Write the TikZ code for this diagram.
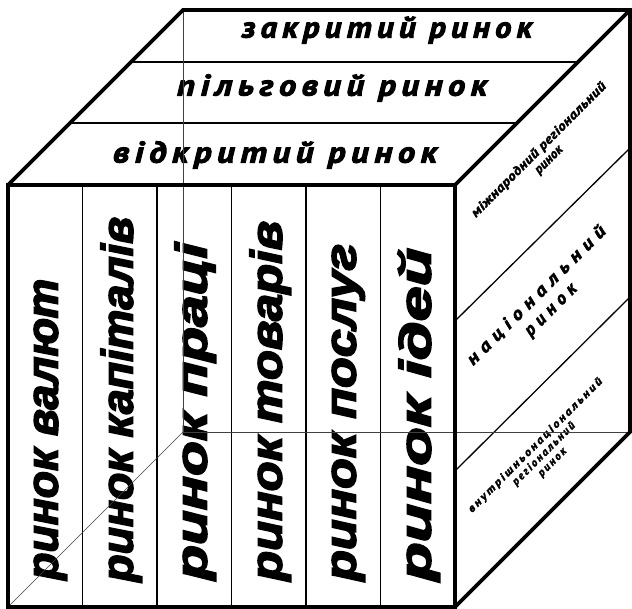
\documentclass[tikz,border=0pt]{standalone}
\usepackage{fontspec}
\usepackage{graphicx}
\setmainfont{Liberation Sans}
\newfontfamily\frontfont{Liberation Sans}[BoldItalicFeatures={FakeBold=3.5}]
\newfontfamily\curfont{PT Sans}[BoldItalicFeatures={FakeBold=3}]
\newfontfamily\sidefont{PT Sans}[BoldItalicFeatures={FakeBold=2.5}]
\usetikzlibrary{calc}
\begin{document}
\begin{tikzpicture}[x=1pt,y=-1pt,
  outline/.style={line width=3.6pt, line join=miter, line cap=round},
  divider/.style={line width=1.3pt},
  hidden/.style={line width=0.6pt, black!75},
  fronttext/.style={rotate=90, anchor=mid west, inner sep=0pt,
    font=\frontfont\bfseries\itshape\fontsize{44}{44}\selectfont},
  toptext/.style={anchor=mid, inner sep=0pt,
    font=\curfont\bfseries\itshape\fontsize{30}{30}\selectfont},
  sidetext/.style={rotate=45, anchor=center, inner sep=0pt, align=center}]
\fill[white] (0,0) rectangle (632,609);
\useasboundingbox (0,0) rectangle (632,609);
% cube corners
\coordinate (ftl) at (8,185);
\coordinate (ftr) at (455,185);
\coordinate (fbl) at (8,607);
\coordinate (fbr) at (455,607);
\coordinate (btl) at (183,10);
\coordinate (btr) at (630,10);
\coordinate (bbr) at (630,432);
\coordinate (bbl) at (183,432);
% front columns
\foreach \i in {1,...,5}{
  \draw[divider] ($(ftl)!\i/6!(ftr)$) -- ($(fbl)!\i/6!(fbr)$);
}
% top stripes
\coordinate (tl1) at ($(ftl)!0.354!(btl)$);
\coordinate (tr1) at ($(ftr)!0.354!(btr)$);
\coordinate (tl2) at ($(ftl)!0.703!(btl)$);
\coordinate (tr2) at ($(ftr)!0.703!(btr)$);
\draw[divider] (tl1) -- (tr1);
\draw[divider] (tl2) -- (tr2);
% side stripes
\coordinate (r1a) at (455,321);
\coordinate (r1b) at (630,148);
\coordinate (r2a) at (455,471);
\coordinate (r2b) at (630,297);
\draw[divider] (r1a) -- (r1b);
\draw[divider] (r2a) -- (r2b);
% front texts
\node[fronttext] (c1) at (55,580) {\resizebox{301pt}{\height}{ринок валют}};
\node[fronttext] (c2) at (130,582) {\resizebox{365pt}{\height}{ринок капіталів}};
\node[fronttext] (c3) at (204,580) {\resizebox{337pt}{\height}{ринок праці}};
\node[fronttext] (c4) at (279,581) {\resizebox{360pt}{\height}{ринок товарів}};
\node[fronttext] (c5) at (353,581) {\resizebox{337pt}{\height}{ринок послуг}};
\node[fronttext] (c6) at (428,581) {\resizebox{333pt}{\height}{ринок ідей}};
% top texts
\node[toptext] (s1) at (387,35) {\resizebox{290pt}{\height}{\addfontfeature{LetterSpace=16}закритий ринок}};
\node[toptext] (s2) at (332,93) {\resizebox{310pt}{\height}{\addfontfeature{LetterSpace=16}пільговий ринок}};
\node[toptext] (s3) at (275,160) {\resizebox{324pt}{\height}{\addfontfeature{LetterSpace=16}відкритий ринок}};
% side texts
\node[sidetext, font=\sidefont\bfseries\itshape\fontsize{13}{14}\selectfont\addfontfeature{LetterSpace=3}] (r1) at (544,155)
  {\resizebox{185pt}{\height}{міжнародний регіональний}\\ринок};
\node[sidetext, font=\sidefont\bfseries\itshape\fontsize{18}{20}\selectfont\addfontfeature{LetterSpace=30}] (r2) at (544,303)
  {\resizebox{189pt}{\height}{національний}\\ринок};
\node[sidetext, font=\sidefont\bfseries\itshape\fontsize{11}{12}\selectfont\addfontfeature{LetterSpace=18}] (r3) at (544,454)
  {\resizebox{185pt}{\height}{внутрішньонаціональний}\\регіональний\\ринок};
% hidden edges
\draw[hidden] (btl) -- (bbl) -- (bbr);
\draw[hidden] (fbl) -- (bbl);
% outlines
\draw[outline] (ftl) rectangle (fbr);
\draw[outline] (ftl) -- (btl) -- (btr) -- (ftr);
\draw[outline] (btr) -- (bbr) -- (fbr);
\end{tikzpicture}
\end{document}
